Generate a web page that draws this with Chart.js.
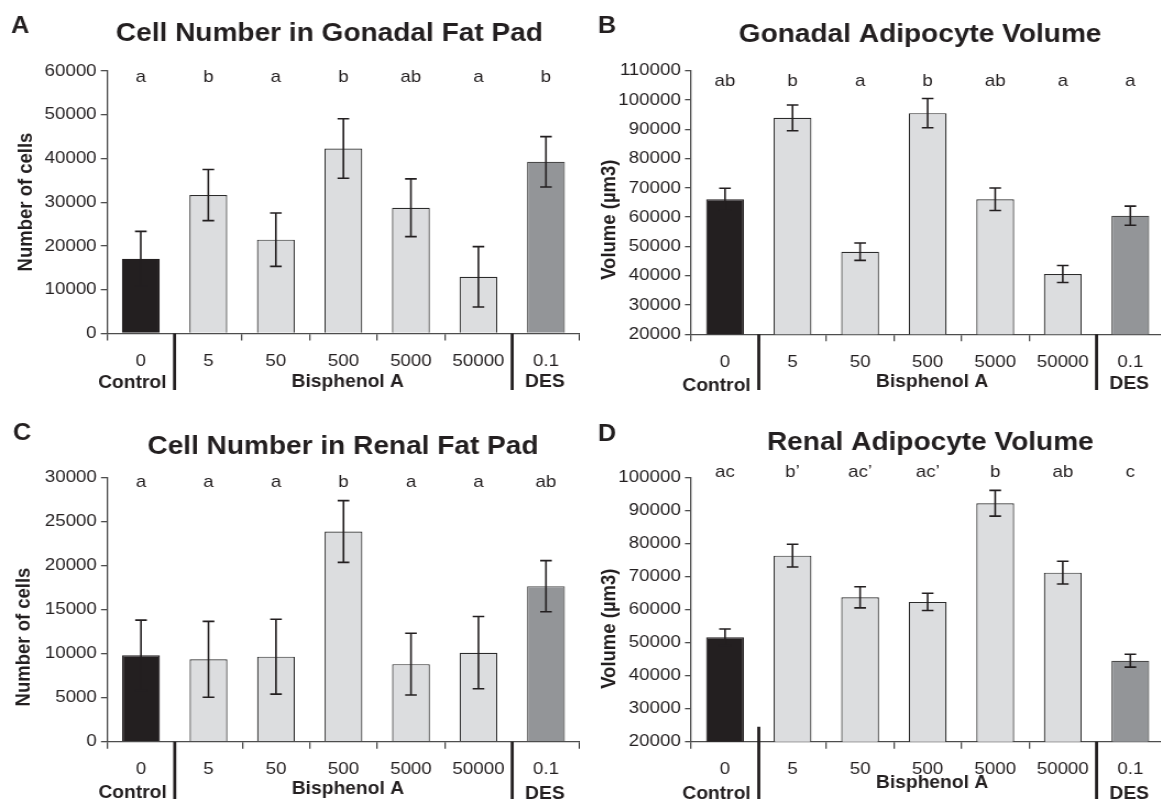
<!DOCTYPE html>
<html lang="en">
<head>
  <meta charset="UTF-8" />
  <title>Adipocyte number and volume</title>
  <script src="https://cdn.jsdelivr.net/npm/chart.js"></script>
  <style>
    html, body { margin: 0; padding: 0; background: #fff; }
    body { width: 1161px; height: 799px; overflow: hidden; position: relative; }
    /* the figure is a little wider than its fonts, so each panel is stretched */
    .panel { position: absolute; height: 400px; transform: scaleX(1.1); transform-origin: 0 0; }
    .panel canvas { display: block; }
  </style>
</head>
<body>
  <div class="panel" style="left:0;top:0"><canvas id="chartA" width="527" height="400"></canvas></div>
  <div class="panel" style="left:580px;top:0"><canvas id="chartB" width="531" height="400"></canvas></div>
  <div class="panel" style="left:0;top:400px"><canvas id="chartC" width="527" height="400"></canvas></div>
  <div class="panel" style="left:580px;top:400px"><canvas id="chartD" width="531" height="400"></canvas></div>

  <script>
    const INK = '#231f20';
    const AXIS = '#4d4d4d';
    const FONT = "'Liberation Sans', Arial, Helvetica, sans-serif";

    const doses = ['0', '5', '50', '500', '5000', '50000', '0.1'];
    const treatment = ['Control', 'Bisphenol A', 'Bisphenol A', 'Bisphenol A', 'Bisphenol A', 'Bisphenol A', 'DES'];

    // A - cell number, gonadal fat pad
    const gonadalCells = [17100, 31650, 21450, 42300, 28750, 12950, 39250];
    const gonadalCellsErr = [6250, 5850, 6100, 6800, 6600, 6900, 5750];
    const gonadalCellsSig = ['a', 'b', 'a', 'b', 'ab', 'a', 'b'];

    // B - adipocyte volume, gonadal
    const gonadalVolume = [66100, 93900, 48200, 95500, 66100, 40600, 60500];
    const gonadalVolumeErr = [3750, 4400, 2950, 5000, 3850, 2900, 3250];
    const gonadalVolumeSig = ['ab', 'b', 'a', 'b', 'ab', 'a', 'a'];

    // C - cell number, renal fat pad
    const renalCells = [9800, 9350, 9650, 23850, 8800, 10100, 17650];
    const renalCellsErr = [4000, 4300, 4250, 3500, 3500, 4100, 2900];
    const renalCellsSig = ['a', 'a', 'a', 'b', 'a', 'a', 'ab'];

    // D - adipocyte volume, renal
    const renalVolume = [51600, 76300, 63700, 62300, 92150, 71150, 44500];
    const renalVolumeErr = [2500, 3450, 3200, 2600, 3900, 3450, 1950];
    const renalVolumeSig = ['ac', 'b\u2019', 'ac\u2019', 'ac\u2019', 'b', 'ab', 'c'];

    const fills = { 'Control': INK, 'Bisphenol A': '#dcdddf', 'DES': '#939598' };
    const edges = { 'Control': INK, 'Bisphenol A': '#2b2b2b', 'DES': '#4a4a4a' };

    function makePanel(id, p) {
      const L = p.layout;

      const decor = {
        id: 'decor',
        afterDraw(chart) {
          const { ctx, scales: { y } } = chart;
          const bars = chart.getDatasetMeta(0).data;
          const base = chart.chartArea.bottom;
          ctx.save();

          // error bars
          ctx.strokeStyle = INK;
          ctx.lineWidth = 1.6;
          p.values.forEach((v, i) => {
            const cx = bars[i].x;
            const t = y.getPixelForValue(v + p.errors[i]);
            const b = y.getPixelForValue(v - p.errors[i]);
            ctx.beginPath();
            ctx.moveTo(cx, t); ctx.lineTo(cx, b);
            ctx.moveTo(cx - 5.3, t); ctx.lineTo(cx + 5.3, t);
            ctx.moveTo(cx - 5.3, b); ctx.lineTo(cx + 5.3, b);
            ctx.stroke();
          });

          // group separators under the axis
          const s1 = (bars[0].x + bars[1].x) / 2;
          const s2 = (bars[5].x + bars[6].x) / 2;
          ctx.lineWidth = 2.8;
          ctx.beginPath();
          ctx.moveTo(s1, L.sep1Top || base); ctx.lineTo(s1, L.sepBottom);
          ctx.moveTo(s2, base); ctx.lineTo(s2, L.sepBottom);
          ctx.stroke();

          ctx.fillStyle = INK;
          ctx.textBaseline = 'alphabetic';

          // significance letters
          ctx.textAlign = 'center';
          ctx.font = `17px ${FONT}`;
          p.sig.forEach((s, i) => ctx.fillText(s, bars[i].x, L.sigY));

          // treatment group names
          ctx.font = `bold 17.5px ${FONT}`;
          ctx.fillText(treatment[0], bars[0].x - 7.7, L.groupY[0]);
          ctx.fillText(treatment[1], (bars[1].x + bars[5].x) / 2 + 4, L.groupY[1]);
          ctx.fillText(treatment[6], bars[6].x - 1, L.groupY[2]);

          // title and panel letter
          ctx.font = `bold 25.5px ${FONT}`;
          ctx.fillText(p.title, L.titleX, L.titleY);
          ctx.textAlign = 'left';
          ctx.font = `bold 23px ${FONT}`;
          ctx.fillText(p.letter, L.letterX, L.letterY);

          // y axis title
          ctx.translate(L.yTitleX, L.yTitleY);
          ctx.rotate(-Math.PI / 2);
          ctx.textAlign = 'center';
          ctx.textBaseline = 'middle';
          ctx.font = `bold 18.5px ${FONT}`;
          ctx.fillText(p.yTitle, 0, 0);
          ctx.restore();
        }
      };

      return new Chart(document.getElementById(id), {
        type: 'bar',
        data: {
          labels: doses,
          datasets: [{
            data: p.values,
            backgroundColor: treatment.map(t => fills[t]),
            borderColor: treatment.map(t => edges[t]),
            borderWidth: 1.2,
            barPercentage: 0.56,
            categoryPercentage: 1
          }]
        },
        options: {
          responsive: false,
          animation: false,
          layout: { padding: { top: L.top, right: 0, bottom: 0, left: 0 } },
          plugins: {
            legend: { display: false },
            title: { display: false },
            tooltip: { enabled: false }
          },
          scales: {
            x: {
              grid: { display: true, drawOnChartArea: false, drawTicks: true, tickLength: 7, color: AXIS, lineWidth: 1.3 },
              border: { display: true, color: AXIS, width: 1.3 },
              ticks: { color: INK, font: { family: FONT, size: 17 }, padding: 10.5, maxRotation: 0, autoSkip: false },
              afterFit: s => { s.height = 400 - L.bottom; }
            },
            y: {
              min: p.yMin,
              max: p.yMax,
              grid: { display: true, drawOnChartArea: false, drawTicks: true, tickLength: 5.7, color: AXIS, lineWidth: 1.3 },
              border: { display: true, color: AXIS, width: 1.3 },
              ticks: {
                stepSize: p.yStep,
                color: INK,
                font: { family: FONT, size: 17 },
                padding: 3.8,
                callback: v => String(v)
              },
              afterFit: s => { s.width = L.axisX; }
            }
          }
        },
        plugins: [decor]
      });
    }

    makePanel('chartA', {
      values: gonadalCells, errors: gonadalCellsErr, sig: gonadalCellsSig,
      title: 'Cell Number in Gonadal Fat Pad', letter: 'A', yTitle: 'Number of cells',
      yMin: 0, yMax: 60000, yStep: 10000,
      layout: { axisX: 97.3, top: 71, bottom: 333.5, titleX: 299.4, titleY: 41, letterX: 10, letterY: 33,
                yTitleX: 23.6, yTitleY: 202, sigY: 82, groupY: [388, 387, 387], sepBottom: 390 }
    });

    makePanel('chartB', {
      values: gonadalVolume, errors: gonadalVolumeErr, sig: gonadalVolumeSig,
      title: 'Gonadal Adipocyte Volume', letter: 'B', yTitle: 'Volume (\u00b5m3)',
      yMin: 20000, yMax: 110000, yStep: 10000,
      layout: { axisX: 101.1, top: 70.7, bottom: 334.3, titleX: 309.2, titleY: 41.5, letterX: 16.2, letterY: 33.3,
                yTitleX: 26.8, yTitleY: 219.7, sigY: 85.7, groupY: [391, 387, 389], sepBottom: 390 }
    });

    makePanel('chartC', {
      values: renalCells, errors: renalCellsErr, sig: renalCellsSig,
      title: 'Cell Number in Renal Fat Pad', letter: 'C', yTitle: 'Number of cells',
      yMin: 0, yMax: 30000, yStep: 5000,
      layout: { axisX: 97.5, top: 77.3, bottom: 341.7, titleX: 311.8, titleY: 54, letterX: 11.8, letterY: 40,
                yTitleX: 22.4, yTitleY: 237, sigY: 87.3, groupY: [398, 394, 399], sepBottom: 400 }
    });

    makePanel('chartD', {
      values: renalVolume, errors: renalVolumeErr, sig: renalVolumeSig,
      title: 'Renal Adipocyte Volume', letter: 'D', yTitle: 'Volume (\u00b5m3)',
      yMin: 20000, yMax: 100000, yStep: 10000,
      layout: { axisX: 101.1, top: 77.3, bottom: 341.7, titleX: 318.5, titleY: 50, letterX: 16.2, letterY: 40.5,
                yTitleX: 26.9, yTitleY: 228.7, sigY: 76.7, groupY: [399, 388, 399], sep1Top: 326.7, sepBottom: 400 }
    });
  </script>
</body>
</html>
